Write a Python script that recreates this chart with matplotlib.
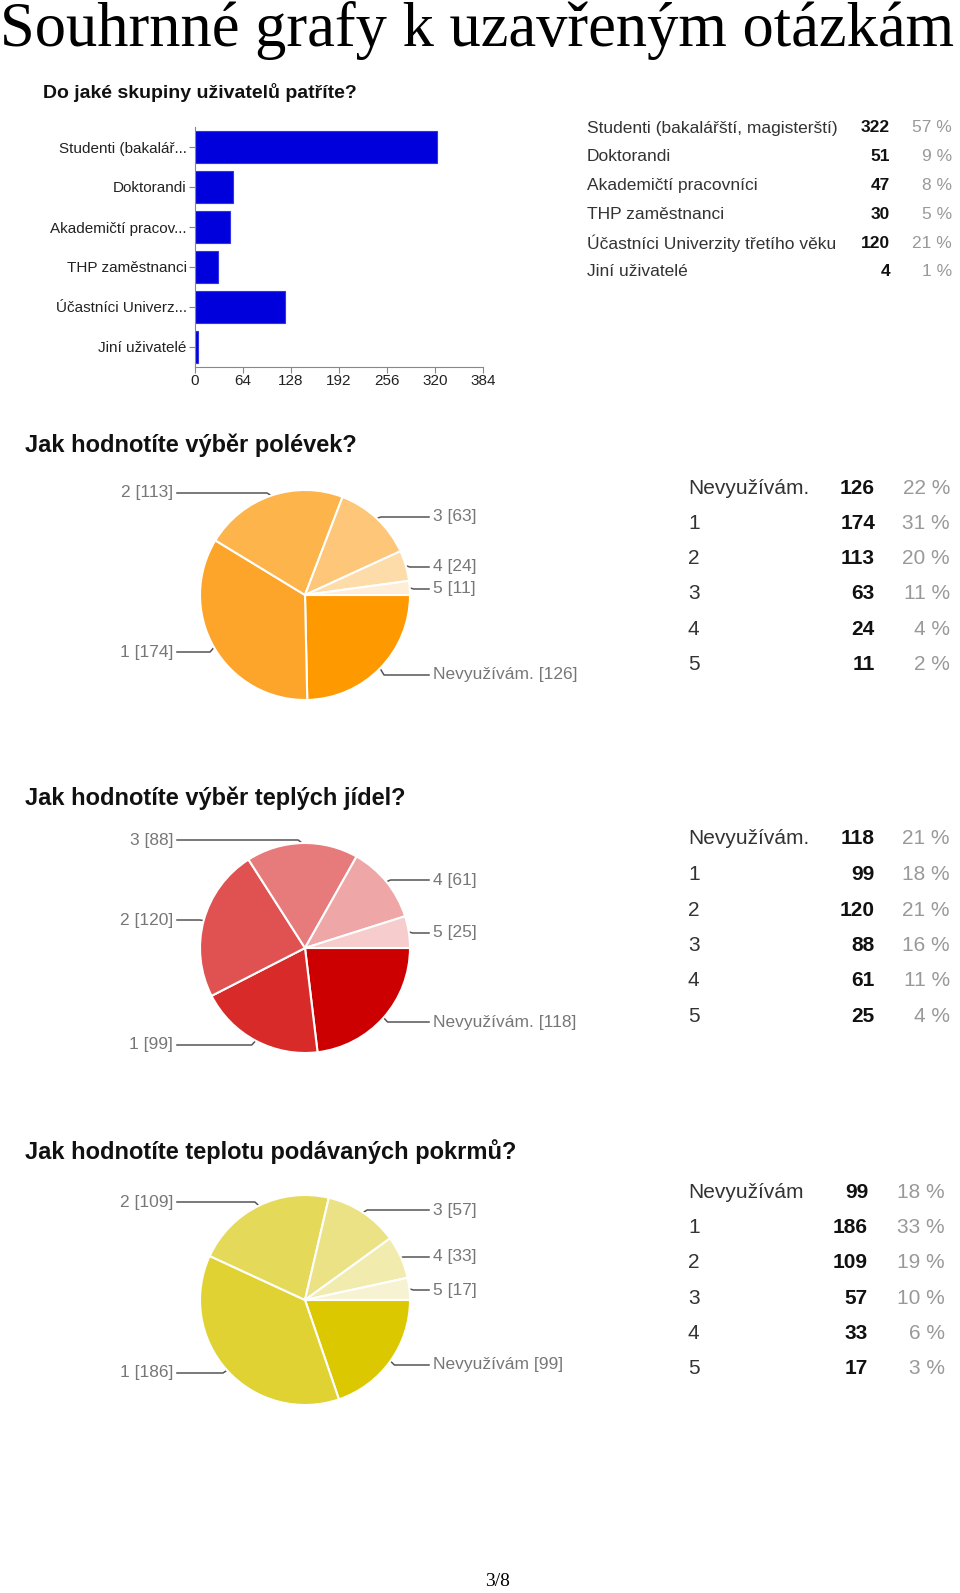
import matplotlib
matplotlib.use("Agg")
import matplotlib.pyplot as plt
import numpy as np

# --- data ---
group_short = ["Studenti (bakalář...", "Doktorandi", "Akademičtí pracov...",
               "THP zaměstnanci", "Účastníci Univerz...", "Jiní uživatelé"]
group_full = ["Studenti (bakalářští, magisterští)", "Doktorandi", "Akademičtí pracovníci",
              "THP zaměstnanci", "Účastníci Univerzity třetího věku", "Jiní uživatelé"]
group_counts = [322, 51, 47, 30, 120, 4]
group_pct = [57, 9, 8, 5, 21, 1]
bar_ticks = [0, 64, 128, 192, 256, 320, 384]

ratings = ["Nevyužívám.", "1", "2", "3", "4", "5"]
ratings_temp = ["Nevyužívám", "1", "2", "3", "4", "5"]

soup_counts = [126, 174, 113, 63, 24, 11]
soup_pct = [22, 31, 20, 11, 4, 2]
hot_counts = [118, 99, 120, 88, 61, 25]
hot_pct = [21, 18, 21, 16, 11, 4]
temp_counts = [99, 186, 109, 57, 33, 17]
temp_pct = [18, 33, 19, 10, 6, 3]

soup_colors = ["#ff9900", "#fda52a", "#fdb44b", "#fdc678", "#fddcaa", "#feeed7"]
hot_colors = ["#cc0000", "#d92a2a", "#e05252", "#e77a7a", "#efa6a6", "#f6cccc"]
temp_colors = ["#dcc800", "#e0d232", "#e5d95a", "#ebe285", "#f1ebae", "#f7f3d2"]

W, H = 960, 1593
fig = plt.figure(figsize=(W / 100, H / 100), dpi=100)
fig.patch.set_facecolor("white")


def frac(x0, y0, x1, y1):
    # pixel box (top-left origin) -> figure fraction rect
    return [x0 / W, 1 - y1 / H, (x1 - x0) / W, (y1 - y0) / H]


page = fig.add_axes([0, 0, 1, 1])
page.set_xlim(0, W)
page.set_ylim(H, 0)
page.axis("off")

sans = "Liberation Sans"
page.text(0, 46, "Souhrnné grafy k uzavřeným otázkám", family="Liberation Serif",
          fontsize=45, va="baseline", ha="left", color="black")
page.text(497, 1582, "3/8", family="Liberation Serif", fontsize=14,
          ha="center", va="center")

# --- bar chart ---
page.text(43, 92, "Do jaké skupiny uživatelů patříte?", family=sans, fontsize=14,
          fontweight="bold", va="center", color="#111111")
axb = fig.add_axes(frac(195, 127, 483, 367))
ypos = np.arange(len(group_counts))
axb.barh(ypos, group_counts, height=0.78, color="#0000dd", edgecolor="#3333e6", lw=0.8)
axb.set_xlim(0, 384)
axb.set_ylim(len(group_counts) - 0.5, -0.5)
axb.set_yticks(ypos)
axb.set_yticklabels(group_short, family=sans, fontsize=11, color="#222222")
axb.set_xticks(bar_ticks)
axb.set_xticklabels([str(t) for t in bar_ticks], family=sans, fontsize=11, color="#222222")
for s in ["top", "right"]:
    axb.spines[s].set_visible(False)
for s in ["left", "bottom"]:
    axb.spines[s].set_color("#888888")
axb.tick_params(axis="both", colors="#888888", length=4, width=0.8, labelcolor="#222222")
axb.tick_params(axis="x", pad=1)
axb.tick_params(axis="y", pad=2)


def table(labels, counts, pct, x_lab, x_cnt, x_pct, y0, step, size):
    for i, (lab, c, p) in enumerate(zip(labels, counts, pct)):
        y = y0 + i * step
        page.text(x_lab, y, lab, family=sans, fontsize=size, va="center",
                  ha="left", color="#333333")
        page.text(x_cnt, y, str(c), family=sans, fontsize=size, va="center",
                  ha="right", color="#111111", fontweight="bold")
        page.text(x_pct, y, f"{p} %", family=sans, fontsize=size, va="center",
                  ha="right", color="#999999")


table(group_full, group_counts, group_pct, 587, 890, 952, 128, 28.8, 12.5)


def pie_block(title, title_y, counts, colors, labels, label_ys, sides, cx, cy, r,
              tbl_labels, pct, tbl_y0, tbl_step, x_cnt, x_pct):
    page.text(25, title_y, title, family=sans, fontsize=17, fontweight="bold",
              va="center", color="#111111")
    ax = fig.add_axes(frac(cx - r, cy - r, cx + r, cy + r))
    wedges, _ = ax.pie(counts, colors=colors, startangle=0, counterclock=False,
                       wedgeprops=dict(edgecolor="white", linewidth=1.5))
    ax.set_xlim(-1, 1)
    ax.set_ylim(-1, 1)
    ax.set_aspect("equal")
    ax.axis("off")
    for w, lab, c, ly, side in zip(wedges, labels, counts, label_ys, sides):
        mid = np.deg2rad((w.theta1 + w.theta2) / 2)
        ex = cx + r * np.cos(mid)
        ey = cy - r * np.sin(mid)
        txt = f"{lab} [{c}]"
        if side == "L":
            page.plot([177, ex - 4, ex], [ly, ly, ey], color="#555555", lw=1.1)
            page.text(173, ly, txt, family=sans, fontsize=12.5, ha="right",
                      va="center", color="#777777")
        else:
            page.plot([429, ex + 4, ex], [ly, ly, ey], color="#555555", lw=1.1)
            page.text(433, ly, txt, family=sans, fontsize=12.5, ha="left",
                      va="center", color="#777777")
    table(tbl_labels, counts, pct, 688, x_cnt, x_pct, tbl_y0, tbl_step, 15)


pie_block("Jak hodnotíte výběr polévek?", 445, soup_counts, soup_colors, ratings,
          [675, 652, 493, 517, 567, 589], ["R", "L", "L", "R", "R", "R"],
          305, 595, 105, ratings, soup_pct, 488, 35.3, 875, 950)

pie_block("Jak hodnotíte výběr teplých jídel?", 798, hot_counts, hot_colors, ratings,
          [1022, 1045, 920, 840, 880, 933], ["R", "L", "L", "L", "R", "R"],
          305, 948, 105, ratings, hot_pct, 839, 35.5, 875, 950)

pie_block("Jak hodnotíte teplotu podávaných pokrmů?", 1152, temp_counts, temp_colors,
          ratings_temp, [1365, 1373, 1202, 1210, 1257, 1290],
          ["R", "L", "L", "R", "R", "R"],
          305, 1300, 105, ratings_temp, temp_pct, 1192, 35.4, 868, 945)

fig.savefig("out.png", dpi=100, facecolor="white")
